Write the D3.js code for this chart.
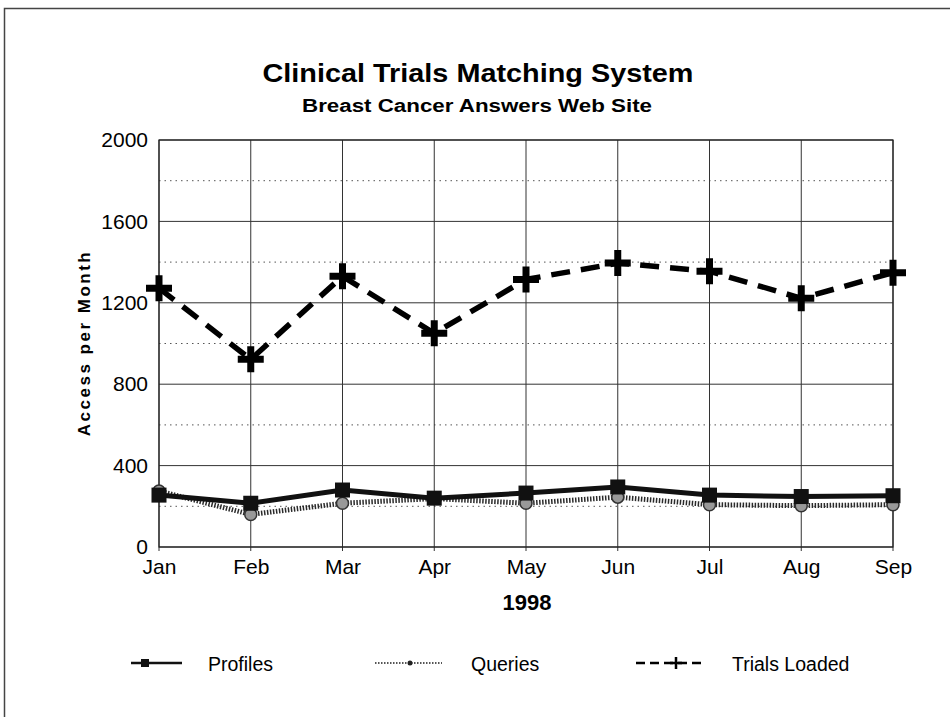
<!DOCTYPE html>
<html>
<head>
<meta charset="utf-8">
<script src="https://cdn.jsdelivr.net/npm/d3@7"></script>
<style>
  body { margin: 0; background: #fff; }
  svg { font-family: Arial, "Liberation Sans", sans-serif; }
</style>
</head>
<body>
<div id="chart"></div>
<script>
const months = ["Jan", "Feb", "Mar", "Apr", "May", "Jun", "Jul", "Aug", "Sep"];
const profiles = [255, 215, 280, 240, 265, 295, 255, 248, 252];
const queries = [275, 160, 215, 238, 215, 245, 208, 203, 208];
const trialsLoaded = [1272, 922, 1330, 1050, 1315, 1395, 1355, 1222, 1348];
const yTicks = [0, 400, 800, 1200, 1600, 2000];
const yMinor = [200, 600, 1000, 1400, 1800];

const W = 950, H = 717;
const FONT = "Arial, 'Liberation Sans', sans-serif";
const svg = d3.select("#chart").append("svg")
  .attr("width", W).attr("height", H);

// page frame (scan border)
svg.append("path")
  .attr("d", "M4.5,717 L4.5,8.5 L950,8.5")
  .attr("fill", "none").attr("stroke", "#444").attr("stroke-width", 1.5);

const plotLeft = 159, plotRight = 893, plotTop = 140, plotBottom = 547;

const x = d3.scalePoint().domain(months).range([plotLeft, plotRight]);
const y = d3.scaleLinear().domain([0, 2000]).range([plotBottom, plotTop]);

// titles (the scan is a bit wider than the font, so stretch to fit)
svg.append("text").attr("x", 478).attr("y", 82)
  .attr("text-anchor", "middle").attr("font-size", 26).attr("font-weight", "bold")
  .attr("textLength", 431).attr("lengthAdjust", "spacingAndGlyphs")
  .text("Clinical Trials Matching System");
svg.append("text").attr("x", 477).attr("y", 112)
  .attr("text-anchor", "middle").attr("font-size", 17.5).attr("font-weight", "bold")
  .attr("textLength", 350).attr("lengthAdjust", "spacingAndGlyphs")
  .text("Breast Cancer Answers Web Site");

// minor dotted grid
svg.append("g").selectAll("line").data(yMinor).join("line")
  .attr("x1", plotLeft).attr("x2", plotRight)
  .attr("y1", d => y(d)).attr("y2", d => y(d))
  .attr("stroke", "#555").attr("stroke-width", 1).attr("stroke-dasharray", "1.5,4");

// major horizontal grid
svg.append("g").selectAll("line").data(yTicks).join("line")
  .attr("x1", plotLeft).attr("x2", plotRight)
  .attr("y1", d => y(d)).attr("y2", d => y(d))
  .attr("stroke", "#333").attr("stroke-width", 1);

// vertical grid (with small tick below baseline)
svg.append("g").selectAll("line").data(months).join("line")
  .attr("x1", d => x(d)).attr("x2", d => x(d))
  .attr("y1", plotTop).attr("y2", plotBottom + 4)
  .attr("stroke", "#333").attr("stroke-width", 1);

// plot frame
svg.append("rect").attr("x", plotLeft).attr("y", plotTop)
  .attr("width", plotRight - plotLeft).attr("height", plotBottom - plotTop)
  .attr("fill", "none").attr("stroke", "#222").attr("stroke-width", 1.2);

// y axis labels
const yAxis = svg.append("g").attr("transform", `translate(${plotLeft},0)`)
  .call(d3.axisLeft(y).tickValues(yTicks).tickSize(0).tickPadding(11).tickFormat(d3.format("d")));
yAxis.select(".domain").remove();
yAxis.selectAll("text").attr("font-size", 21).attr("font-family", FONT).attr("fill", "#000");

// x axis labels
const xAxis = svg.append("g").attr("transform", `translate(0,${plotBottom})`)
  .call(d3.axisBottom(x).tickSize(0).tickPadding(12));
xAxis.select(".domain").remove();
xAxis.selectAll("text").attr("font-size", 21).attr("font-family", FONT).attr("fill", "#000");

svg.append("text").attr("x", 527).attr("y", 610)
  .attr("text-anchor", "middle").attr("font-size", 22).attr("font-weight", "bold")
  .text("1998");

svg.append("text")
  .attr("transform", "translate(90,343) rotate(-90)")
  .attr("text-anchor", "middle").attr("font-size", 17).attr("font-weight", "bold")
  .attr("letter-spacing", 2.5)
  .text("Access per Month");

const line = d3.line().x((d, i) => x(months[i])).y(d => y(d));

// Queries
svg.append("path").datum(queries).attr("d", line)
  .attr("fill", "none").attr("stroke", "#2a2a2a").attr("stroke-width", 5)
  .attr("stroke-dasharray", "1.5,1.5");
svg.append("g").selectAll("circle").data(queries).join("circle")
  .attr("cx", (d, i) => x(months[i])).attr("cy", d => y(d)).attr("r", 6)
  .attr("fill", "#999").attr("stroke", "#333").attr("stroke-width", 1.5);

// Profiles
svg.append("path").datum(profiles).attr("d", line)
  .attr("fill", "none").attr("stroke", "#111").attr("stroke-width", 5);
svg.append("g").selectAll("rect").data(profiles).join("rect")
  .attr("x", (d, i) => x(months[i]) - 7.5).attr("y", d => y(d) - 7.5)
  .attr("width", 15).attr("height", 15).attr("fill", "#111");

// Trials Loaded
svg.append("path").datum(trialsLoaded).attr("d", line)
  .attr("fill", "none").attr("stroke", "#000").attr("stroke-width", 5.5)
  .attr("stroke-dasharray", "19,11");
svg.append("g").selectAll("path").data(trialsLoaded).join("path")
  .attr("transform", (d, i) => `translate(${x(months[i])},${y(d)})`)
  .attr("d", "M-13,0H13M0,-13V13")
  .attr("stroke", "#000").attr("stroke-width", 7);

// legend
const lg = svg.append("g");
const legendY = 663;
// Profiles
lg.append("line").attr("x1", 131).attr("x2", 182).attr("y1", legendY).attr("y2", legendY)
  .attr("stroke", "#111").attr("stroke-width", 2.5);
lg.append("rect").attr("x", 141).attr("y", legendY - 4).attr("width", 8).attr("height", 8).attr("fill", "#111");
lg.append("text").attr("x", 208).attr("y", legendY + 8).attr("font-size", 19.5).text("Profiles");
// Queries
lg.append("line").attr("x1", 375).attr("x2", 442).attr("y1", legendY).attr("y2", legendY)
  .attr("stroke", "#555").attr("stroke-width", 2).attr("stroke-dasharray", "1.5,1.5");
lg.append("circle").attr("cx", 410).attr("cy", legendY).attr("r", 2.5).attr("fill", "#222");
lg.append("text").attr("x", 471).attr("y", legendY + 8).attr("font-size", 19.5).text("Queries");
// Trials Loaded
lg.append("line").attr("x1", 636).attr("x2", 705).attr("y1", legendY).attr("y2", legendY)
  .attr("stroke", "#000").attr("stroke-width", 2.5).attr("stroke-dasharray", "9,5");
lg.append("path").attr("transform", `translate(676,${legendY})`).attr("d", "M-6,0H6M0,-6V6")
  .attr("stroke", "#000").attr("stroke-width", 2.5);
lg.append("text").attr("x", 732).attr("y", legendY + 8).attr("font-size", 19.5).text("Trials Loaded");
</script>
</body>
</html>
